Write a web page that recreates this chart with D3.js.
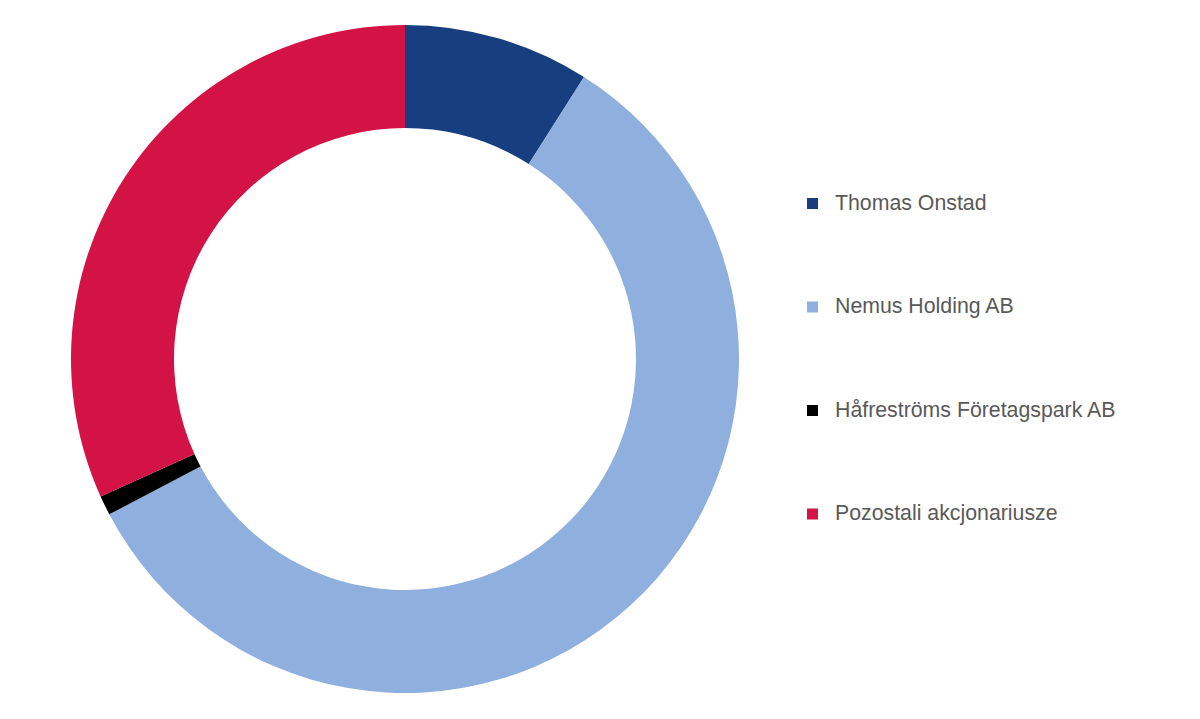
<!DOCTYPE html>
<html><head><meta charset="utf-8">
<script src="https://cdn.jsdelivr.net/npm/d3@7"></script>
<style>html,body{margin:0;padding:0;background:#fff;}</style>
</head><body>
<svg id="c" width="1200" height="719"></svg>
<script>
const categories = ["Thomas Onstad", "Nemus Holding AB", "Håfreströms Företagspark AB", "Pozostali akcjonariusze"];
const values = [9.0, 58.3, 0.95, 31.75];
const colors = ["#173F80", "#8FAFDE", "#000000", "#D31245"];

const svg = d3.select("#c");
const cx = 405, cy = 359, rOuter = 334, rInner = 231;
const pie = d3.pie().sort(null).value(d => d.v);
const arc = d3.arc().innerRadius(rInner).outerRadius(rOuter);
const data = categories.map((c, i) => ({c, v: values[i], col: colors[i]}));
svg.append("g").attr("transform", `translate(${cx},${cy})`)
  .selectAll("path").data(pie(data)).join("path")
  .attr("d", arc).attr("fill", d => d.data.col);

const ly = d3.scalePoint().domain(categories).range([203.5, 514]);
const lg = svg.append("g");
const items = lg.selectAll("g").data(data).join("g")
  .attr("transform", d => `translate(807,${ly(d.c)})`);
items.append("rect").attr("x", 0).attr("y", -5.5).attr("width", 11).attr("height", 11).attr("fill", d => d.col);
items.append("text").attr("x", 28).attr("y", -1).attr("dy", "0.35em")
  .attr("font-family", "'Liberation Sans', Arial, sans-serif").attr("font-size", 21.3)
  .attr("fill", "#595959").text(d => d.c);
</script>
</body></html>
